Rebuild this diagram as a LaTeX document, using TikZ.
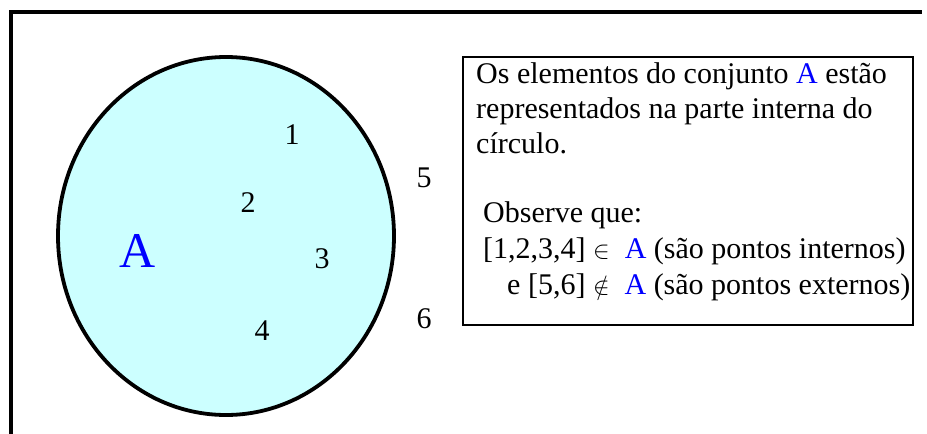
\documentclass[tikz,border=0pt]{standalone}
\usepackage{fontspec}
\setmainfont{Liberation Serif}
\usetikzlibrary{shapes.geometric}
\definecolor{setfill}{RGB}{204,255,255}
\begin{document}
\begin{tikzpicture}[
  x=1pt, y=-1pt,
  elem/.style={anchor=base, inner sep=0pt, font=\fontsize{30}{36}\selectfont},
  txt/.style={anchor=base west, inner sep=0pt, font=\fontsize{30}{36}\selectfont},
  setname/.style={anchor=base, inner sep=0pt, text=blue, font=\fontsize{50}{60}\selectfont}
]
\useasboundingbox (0,0) rectangle (927,434);
% frame
\draw[line width=4.2pt] (11.2,434) -- (11.2,11.7) -- (922,11.7);
% the set A
\node[ellipse, draw, line width=3.8pt, fill=setfill, minimum width=336pt, minimum height=358pt] (setA) at (226,236) {};
\node[setname] (nameA) at (138,267) {A};
\node[elem] (e1) at (292,144) {1};
\node[elem] (e2) at (248,212) {2};
\node[elem] (e3) at (322,268) {3};
\node[elem] (e4) at (262,340) {4};
\node[elem] (e5) at (424,187) {5};
\node[elem] (e6) at (424,328) {6};
% explanation
\node[draw, line width=2pt, minimum width=450pt, minimum height=268.5pt] (info) at (688,191) {};
\node[txt] (l1) at (476,83) {Os elementos do conjunto \textcolor{blue}{A} estão};
\node[txt] (l2) at (476,118) {representados na parte interna do};
\node[txt] (l3) at (476,153) {círculo.};
\node[txt] (l4) at (483,222) {Observe que:};
\node[txt] (l5) at (483,258) {[1,2,3,4] \smash{$\in$}\ \ \textcolor{blue}{A} (são pontos internos)};
\node[txt] (l6) at (507,294) {e [5,6] \smash{$\notin$}\ \ \textcolor{blue}{A} (são pontos externos)};
\end{tikzpicture}
\end{document}
